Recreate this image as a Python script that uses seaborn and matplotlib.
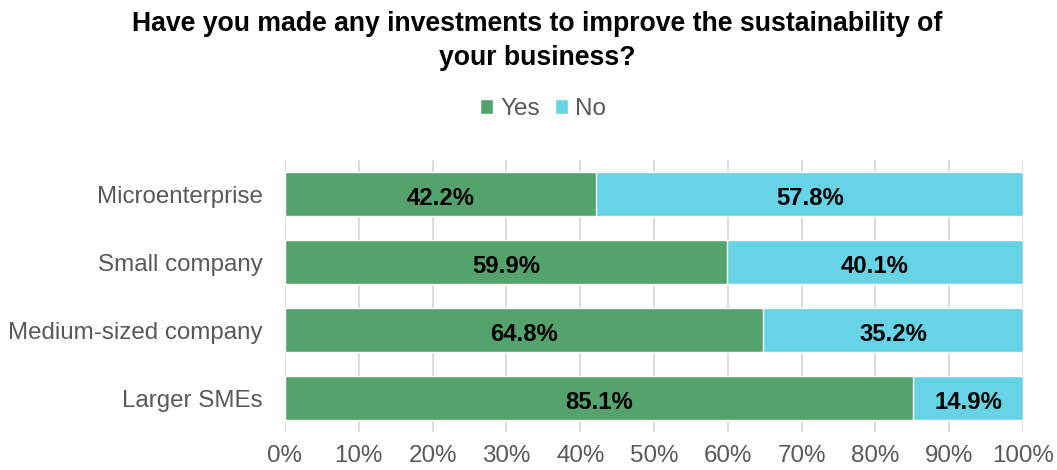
import matplotlib
matplotlib.use("Agg")
import matplotlib.pyplot as plt
import seaborn as sns
import pandas as pd
import numpy as np

categories = ["Microenterprise", "Small company", "Medium-sized company", "Larger SMEs"]
yes_values = [42.2, 59.9, 64.8, 85.1]
no_values = [57.8, 40.1, 35.2, 14.9]
series_names = ["Yes", "No"]
colors = ["#55A36C", "#66D3E6"]
title = "Have you made any investments to improve the sustainability of\nyour business?"

sns.set_theme(style="white")
plt.rcParams['font.family'] = ['Liberation Sans', 'DejaVu Sans']

fig = plt.figure(figsize=(10.57, 4.70), dpi=100)
ax = fig.add_axes([285/1057, 1-432/470, (1023-285)/1057, (432-160)/470])

df = pd.DataFrame({"category": categories, "Yes": yes_values, "No": no_values})
df["Total"] = df["Yes"] + df["No"]

bar_h = 0.65
sns.barplot(data=df, y="category", x="Total", color=colors[1], width=bar_h, ax=ax,
            orient="h", saturation=1, label=series_names[1], zorder=3)
sns.barplot(data=df, y="category", x="Yes", color=colors[0], width=bar_h, ax=ax,
            orient="h", saturation=1, label=series_names[0], zorder=3)

for i, (y, n) in enumerate(zip(yes_values, no_values)):
    ax.text(y/2, i + 0.06, f"{y:.1f}%", ha="center", va="center", fontsize=17.2,
            fontweight="bold", color="black", zorder=4)
    ax.text(y + n/2, i + 0.06, f"{n:.1f}%", ha="center", va="center", fontsize=17.2,
            fontweight="bold", color="black", zorder=4)

ax.set_xlim(0, 100)
ax.set_ylim(3.5, -0.5)
ax.set_xticks(np.arange(0, 101, 10))
ax.set_xticklabels([f"{v}%" for v in range(0, 101, 10)])
ax.xaxis.grid(True, color="#D9D9D9", linewidth=1.3, zorder=0)
ax.set_axisbelow(True)
for s in ax.spines.values():
    s.set_visible(False)
ax.set_xlabel("")
ax.set_ylabel("")
ax.tick_params(axis="both", length=0, labelsize=17.4, labelcolor="#595959")
ax.tick_params(axis="x", pad=9)
ax.tick_params(axis="y", pad=16)

handles, labels = ax.get_legend_handles_labels()
order = [labels.index(s) for s in series_names]
fig.legend([handles[k] for k in order], [labels[k] for k in order],
           loc="center", bbox_to_anchor=(543/1057, 1-109/470), ncol=2, frameon=False,
           fontsize=17.5, labelcolor="#595959", handlelength=0.55, handleheight=0.55,
           handletextpad=0.3, columnspacing=0.6)
if ax.get_legend():
    ax.get_legend().remove()

fig.text(537/1057, 1-41/470, title, ha="center", va="center", fontsize=19.2,
         fontweight="bold", color="black", linespacing=1.4)

fig.savefig("out.png", dpi=100)
